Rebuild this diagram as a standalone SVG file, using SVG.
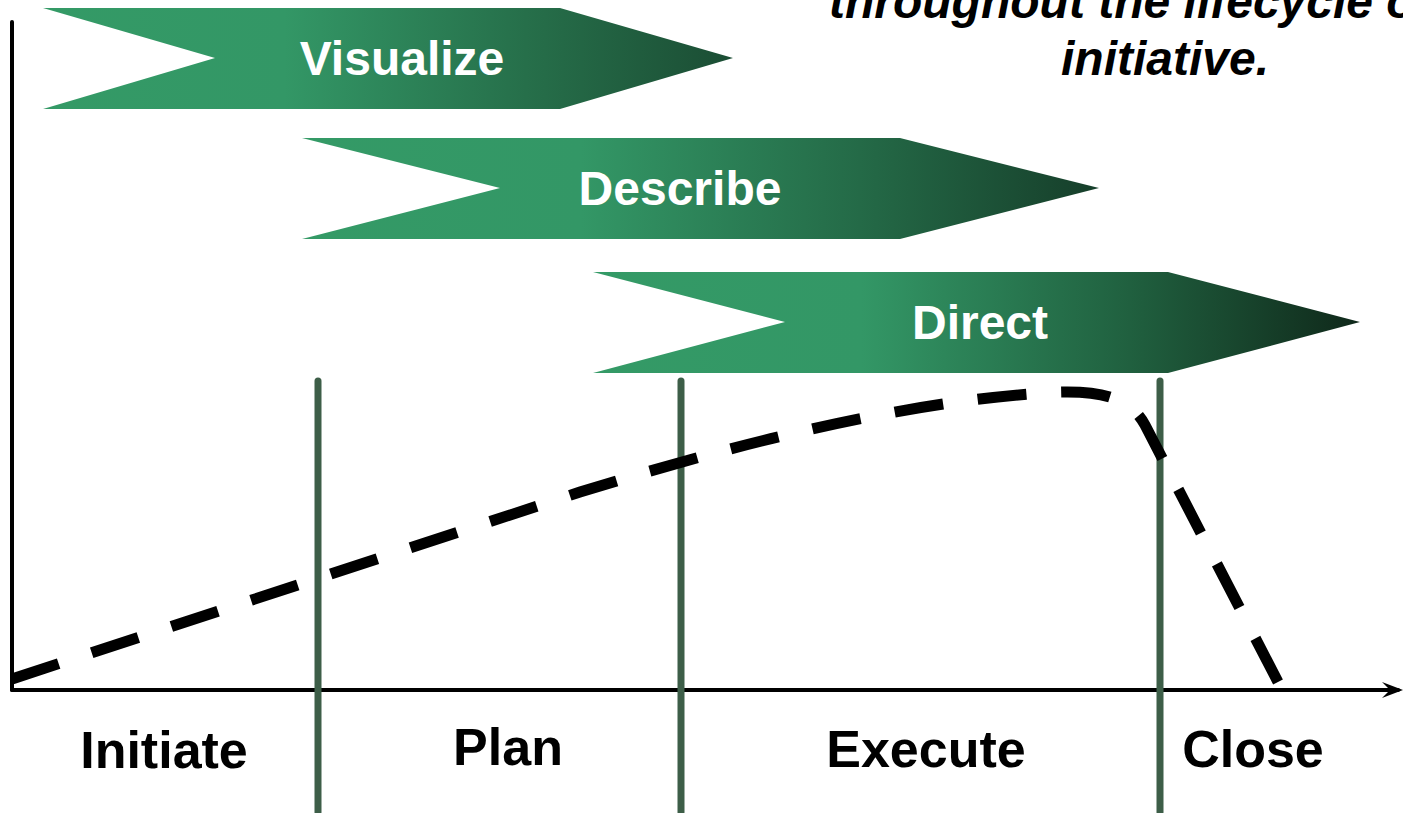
<svg xmlns="http://www.w3.org/2000/svg" width="1403" height="813" viewBox="0 0 1403 813">
  <defs>
    <linearGradient id="fillVisualize" x1="0" y1="0" x2="1" y2="0">
      <stop offset="0" stop-color="#349a66"/>
      <stop offset="0.35" stop-color="#339766"/>
      <stop offset="0.7" stop-color="#266f4a"/>
      <stop offset="1" stop-color="#1b4d34"/>
    </linearGradient>
    <linearGradient id="fillDescribe" x1="0" y1="0" x2="1" y2="0">
      <stop offset="0" stop-color="#349a66"/>
      <stop offset="0.35" stop-color="#339766"/>
      <stop offset="0.7" stop-color="#246a47"/>
      <stop offset="1" stop-color="#163e2a"/>
    </linearGradient>
    <linearGradient id="fillDirect" x1="0" y1="0" x2="1" y2="0">
      <stop offset="0" stop-color="#349a66"/>
      <stop offset="0.35" stop-color="#339766"/>
      <stop offset="0.7" stop-color="#20603f"/>
      <stop offset="1" stop-color="#0f281a"/>
    </linearGradient>
  </defs>
  <style>
    .chevLabel { font-family: "Liberation Sans", Arial, sans-serif; font-weight: bold; font-size: 48px; fill: #ffffff; text-anchor: middle; }
    .phase { font-family: "Liberation Sans", Arial, sans-serif; font-weight: bold; font-size: 52px; fill: #000000; text-anchor: middle; }
    .note { font-family: "Liberation Sans", Arial, sans-serif; font-weight: bold; font-style: italic; font-size: 48px; fill: #000000; text-anchor: middle; }
    .axis { stroke: #000000; stroke-width: 4; fill: none; stroke-linecap: round; }
    .divider { stroke: #3d5e48; stroke-width: 7; stroke-linecap: round; fill: none; }
    .effort { stroke: #000000; stroke-width: 11; fill: none; stroke-dasharray: 48 34; }
  </style>

  <!-- axes -->
  <g id="axes">
    <line class="axis" x1="12" y1="22" x2="12" y2="690"/>
    <line class="axis" x1="12" y1="690" x2="1398" y2="690" stroke-linecap="butt"/>
    <path d="M1382,682 L1403,690 L1382,698 L1390,690 Z" fill="#000000"/>
  </g>

  <!-- activity chevrons -->
  <g id="visualize">
    <polygon fill="url(#fillVisualize)" points="43,8 560,8 733,58 560,109 43,109 215,58"/>
    <text class="chevLabel" x="402" y="75">Visualize</text>
  </g>
  <g id="describe">
    <polygon fill="url(#fillDescribe)" points="302,138 900,138 1099,188 900,239 302,239 500,188"/>
    <text class="chevLabel" x="680" y="205">Describe</text>
  </g>
  <g id="direct">
    <polygon fill="url(#fillDirect)" points="593,272 1168,272 1360,322 1168,373 593,373 785,322"/>
    <text class="chevLabel" x="980" y="339">Direct</text>
  </g>

  <!-- phase boundaries and effort curve -->
  <g id="connectors">
    <line class="divider" x1="318" y1="381" x2="318" y2="812"/>
    <line class="divider" x1="681" y1="381" x2="681" y2="812"/>
    <line class="divider" x1="1160" y1="381" x2="1160" y2="812"/>
    <path class="effort" pathLength="1442" d="M12,679 L580,492 C720,449 900,400 1060,392 C1100,391 1130,397 1145,425 L1278,682"/>
  </g>

  <!-- phase labels -->
  <g id="phases">
    <text class="phase" x="164" y="768">Initiate</text>
    <text class="phase" x="508" y="765">Plan</text>
    <text class="phase" x="926" y="767">Execute</text>
    <text class="phase" x="1253" y="767">Close</text>
  </g>

  <!-- note -->
  <g id="note">
    <text class="note" x="1165" y="18">throughout the lifecycle of an</text>
    <text class="note" x="1165" y="75">initiative.</text>
  </g>
</svg>
